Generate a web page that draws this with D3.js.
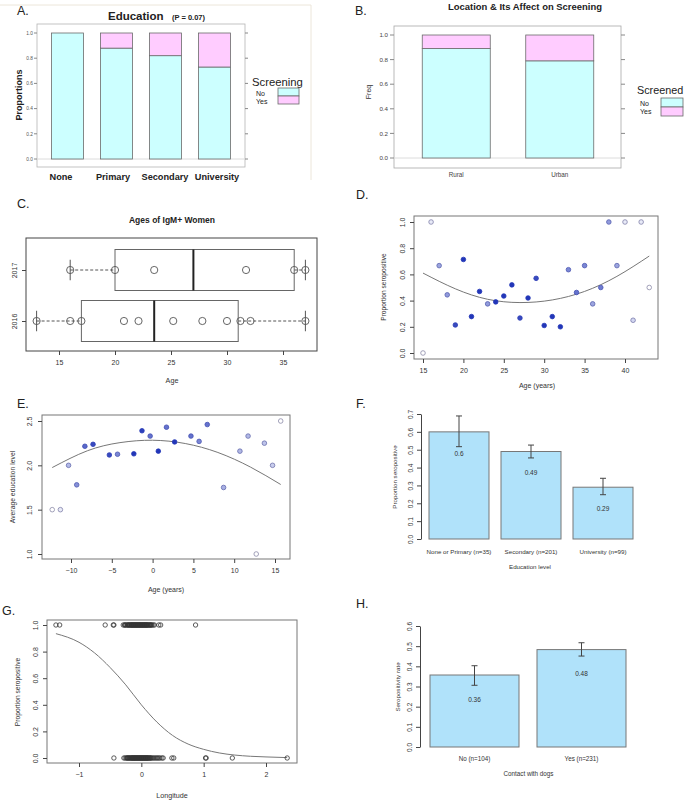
<!DOCTYPE html>
<html><head><meta charset="utf-8">
<script src="https://cdn.jsdelivr.net/npm/d3@7"></script>
<style>body{margin:0;background:#fff}svg{display:block}</style>
</head><body><script>
// ---------------- DATA ----------------
const eduCats = ["None", "Primary", "Secondary", "University"];
const eduNo = [1.0, 0.88, 0.82, 0.73];
const locCats = ["Rural", "Urban"];
const locNo = [0.89, 0.79];
const screenLevels = ["No", "Yes"];
const propTicks = [0, 0.2, 0.4, 0.6, 0.8, 1.0];

const ageYears = ["2016", "2017"];
const ageBoxStats = [[13, 17, 23.5, 31, 37], [16, 20, 27, 36, 37]];
const agePoints = [
  [13, 16, 17, 20.8, 22.1, 25.2, 27.8, 30, 31.2, 32.1, 37],
  [16, 20, 23.5, 31.7, 36, 37]
];
const ageTicks = [15, 20, 25, 30, 35];

const dAge = [15,16,17,18,19,20,21,22,23,24,25,26,27,28,29,30,31,32,33,34,35,36,37,38,39,40,41,42,43];
const dProp = [0,1,0.667,0.444,0.214,0.714,0.278,0.47,0.375,0.39,0.435,0.52,0.267,0.42,0.57,0.21,0.278,0.2,0.636,0.462,0.667,0.375,0.5,1,0.667,1,0.25,1,0.5];
const dWeight = [0,0.1,0.45,0.5,0.9,1,1,1,0.5,1,1,1,0.9,1,0.9,1,1,1,0.6,0.7,0.6,0.45,0.65,0.5,0.45,0.1,0.2,0.1,0];
const dFitAge = [15, 19, 23, 27, 31, 35, 39, 43];
const dFitProp = [0.61, 0.49, 0.41, 0.385, 0.405, 0.47, 0.585, 0.74];
const dXTicks = [15, 20, 25, 30, 35, 40];

const eAge = [-12.3,-11.3,-10.3,-9.3,-8.3,-7.3,-5.3,-4.3,-2.3,-1.3,-0.3,0.7,1.7,2.7,4.7,5.7,6.7,8.7,10.7,11.7,12.7,13.7,14.7,15.7];
const eEdu = [1.5,1.5,2.0,1.78,2.215,2.237,2.117,2.125,2.13,2.39,2.33,2.16,2.43,2.264,2.33,2.27,2.46,1.75,2.16,2.33,1.0,2.25,2.0,2.5];
const eWeight = [0,0.1,0.35,0.55,0.75,0.9,0.9,0.6,1,0.95,0.7,1,0.7,1,0.7,0.6,0.7,0.4,0.35,0.35,0,0.3,0.25,0];
const eFitAge = [-12.3, -8, -4, 0, 4, 8, 12, 15.7];
const eFitEdu = [1.975, 2.164, 2.256, 2.283, 2.246, 2.145, 1.98, 1.784];
const eXTicks = [-10, -5, 0, 5, 10, 15];
const eYTicks = [1.0, 1.5, 2.0, 2.5];

const fCats = ["None or Primary (n=35)", "Secondary (n=201)", "University (n=99)"];
const fVals = [0.6, 0.49, 0.29];
const fLo = [0.517, 0.454, 0.248];
const fHi = [0.689, 0.526, 0.34];
const fTicks = [0, 0.1, 0.2, 0.3, 0.4, 0.5, 0.6, 0.7];

const gPos = [-1.37,-1.31,-0.58,-0.45,-0.44,-0.29,-0.27,-0.26,-0.25,-0.23,-0.22,-0.21,-0.2,-0.19,-0.18,-0.17,-0.16,-0.155,-0.15,-0.14,-0.13,-0.125,-0.12,-0.11,-0.1,-0.095,-0.09,-0.08,-0.07,-0.065,-0.06,-0.05,-0.04,-0.035,-0.03,-0.02,-0.01,-0.005,0,0.01,0.02,0.025,0.03,0.04,0.05,0.055,0.06,0.07,0.08,0.085,0.09,0.1,0.11,0.12,0.13,0.14,0.15,0.16,0.17,0.19,0.21,0.28,0.31,0.87];
const gNeg = [-0.44,-0.28,-0.26,-0.24,-0.23,-0.22,-0.21,-0.2,-0.19,-0.18,-0.17,-0.16,-0.15,-0.145,-0.14,-0.13,-0.12,-0.115,-0.11,-0.1,-0.09,-0.085,-0.08,-0.07,-0.06,-0.055,-0.05,-0.04,-0.03,-0.025,-0.02,-0.01,0,0.005,0.01,0.02,0.03,0.035,0.04,0.05,0.06,0.065,0.07,0.08,0.09,0.095,0.1,0.11,0.12,0.13,0.14,0.15,0.16,0.18,0.2,0.22,0.24,0.26,0.28,0.3,0.33,0.35,0.49,0.52,1.03,1.04,1.46,2.34];
const gFitLon = [-1.37,-1,-0.75,-0.5,-0.25,0,0.25,0.5,0.75,1,1.25,1.5,1.75,2,2.34];
const gFitProp = [0.935,0.87,0.79,0.68,0.55,0.40,0.27,0.17,0.105,0.065,0.038,0.022,0.013,0.008,0.003];
const gXTicks = [-1, 0, 1, 2];

const hCats = ["No (n=104)", "Yes (n=231)"];
const hVals = [0.357, 0.483];
const hLo = [0.306, 0.451];
const hHi = [0.403, 0.517];
const hTicks = [0, 0.1, 0.2, 0.3, 0.4, 0.5, 0.6];

// ---------------- DRAW ----------------
const FONT = '"Liberation Sans", Arial, Helvetica, sans-serif';
const CYAN = "#ccffff", PINK = "#ffccff", BLUE = "#b0e2fa";
const svg = d3.select("body").append("svg").attr("width", 685).attr("height", 801)
  .attr("font-family", FONT);

function txt(x, y, s, o = {}) {
  const t = svg.append("text").attr("x", x).attr("y", y).text(s)
    .attr("font-size", o.fs || 7).attr("fill", o.fill || "#222")
    .attr("text-anchor", o.anchor || "start");
  if (o.bold) t.attr("font-weight", "bold");
  if (o.rot) t.attr("transform", `rotate(-90,${x},${y})`);
  if (o.len) t.attr("textLength", o.len).attr("lengthAdjust", "spacingAndGlyphs");
  return t;
}
function rect(x, y, w, h, fill, stroke, sw) {
  return svg.append("rect").attr("x", x).attr("y", y).attr("width", w).attr("height", h)
    .attr("fill", fill).attr("stroke", stroke || "none").attr("stroke-width", sw || 1);
}
function axisLeftR(scale, ticks, x0, off, fs, fmt, keepDomain) {
  const g = svg.append("g").attr("transform", `translate(${x0},0)`)
    .call(d3.axisLeft(scale).tickValues(ticks).tickSize(4).tickSizeOuter(0).tickFormat(fmt));
  g.attr("font-family", FONT).attr("font-size", fs);
  if (!keepDomain) g.select(".domain").remove(); else g.select(".domain").attr("stroke", "#444");
  g.selectAll(".tick line").attr("stroke", "#444");
  g.selectAll(".tick text").attr("x", null).attr("dy", null).attr("fill", "#333")
    .attr("text-anchor", "middle").attr("transform", `translate(${-off},0) rotate(-90)`);
  return g;
}
function axisBottomR(scale, ticks, y0, ly, fs, fmt) {
  const g = svg.append("g").attr("transform", `translate(0,${y0})`)
    .call(d3.axisBottom(scale).tickValues(ticks).tickSize(4).tickSizeOuter(0).tickFormat(fmt));
  g.attr("font-family", FONT).attr("font-size", fs);
  g.select(".domain").remove();
  g.selectAll(".tick line").attr("stroke", "#444");
  g.selectAll(".tick text").attr("y", ly).attr("dy", null).attr("fill", "#333");
  return g;
}
const f1 = d3.format(".1f");

// ===== Panel A =====
{
  svg.append("path").attr("d", "M0,5H311V180").attr("fill", "none").attr("stroke", "#ece6da").attr("stroke-width", 1);
  txt(17, 15, "A.", { fs: 12.5 });
  txt(108, 20, "Education", { fs: 11.5, bold: true });
  txt(172, 20, "(P = 0.07)", { fs: 7.5, bold: true });
  const L = 37, R = 245, T = 24, B = 167;
  const x = d3.scaleBand().domain(eduCats).range([43, 239]);
  const xLab = d3.scalePoint().domain(eduCats).range([61, 217]);
  const y = d3.scaleLinear().domain([0, 1]).range([159, 33]);
  rect(L, T, R - L, B - T, "none", "#b5b5b5", 0.8);
  svg.append("line").attr("x1", L).attr("x2", R).attr("y1", y(0)).attr("y2", y(0)).attr("stroke", "#dcdcdc");
  const bw = 32;
  eduCats.forEach((c, i) => {
    const cx = x(c) + x.bandwidth() / 2;
    rect(cx - bw / 2, y(eduNo[i]), bw, y(0) - y(eduNo[i]), CYAN, "#6a6a6a", 0.8);
    if (eduNo[i] < 1) rect(cx - bw / 2, y(1), bw, y(eduNo[i]) - y(1), PINK, "#6a6a6a", 0.8);
    txt(xLab(c), 180, c, { fs: 9.2, bold: true, anchor: "middle" });
  });
  propTicks.forEach(v => {
    svg.append("line").attr("x1", L - 3).attr("x2", L).attr("y1", y(v)).attr("y2", y(v)).attr("stroke", "#888");
    svg.append("line").attr("x1", R).attr("x2", R + 3).attr("y1", y(v)).attr("y2", y(v)).attr("stroke", "#888");
    txt(L - 4, y(v) + 1.7, f1(v), { fs: 4.8, anchor: "end", fill: "#555" });
  });
  txt(22, 95, "Proportions", { fs: 9, bold: true, anchor: "middle", rot: true });
  txt(252, 86, "Screening", { fs: 11.3 });
  txt(256, 96, screenLevels[0], { fs: 7 });
  txt(256, 103.5, screenLevels[1], { fs: 7 });
  rect(278, 88, 21, 8, CYAN, "#6a6a6a", 0.8);
  rect(278, 96, 21, 8, PINK, "#6a6a6a", 0.8);
}

// ===== Panel B =====
{
  txt(355, 15, "B.", { fs: 12.5 });
  txt(525, 10, "Location & Its Affect on Screening", { fs: 9, bold: true, anchor: "middle", len: 154 });
  const L = 394, R = 621, T = 26, B = 168;
  const x = d3.scaleBand().domain(locCats).range([404.5, 611.5]);
  const y = d3.scaleLinear().domain([0, 1]).range([158, 35]);
  rect(L, T, R - L, B - T, "none", "#a8a8a8", 0.8);
  svg.append("line").attr("x1", L).attr("x2", R).attr("y1", y(0)).attr("y2", y(0)).attr("stroke", "#dcdcdc");
  const bw = 68;
  locCats.forEach((c, i) => {
    const cx = x(c) + x.bandwidth() / 2;
    rect(cx - bw / 2, y(locNo[i]), bw, y(0) - y(locNo[i]), CYAN, "#6a6a6a", 0.8);
    rect(cx - bw / 2, y(1), bw, y(locNo[i]) - y(1), PINK, "#6a6a6a", 0.8);
    txt(cx, 177, c, { fs: 6.3, anchor: "middle", fill: "#444" });
  });
  propTicks.forEach(v => {
    svg.append("line").attr("x1", L - 4).attr("x2", L).attr("y1", y(v)).attr("y2", y(v)).attr("stroke", "#888");
    svg.append("line").attr("x1", R).attr("x2", R + 4).attr("y1", y(v)).attr("y2", y(v)).attr("stroke", "#888");
    txt(L - 6, y(v) + 2.2, f1(v), { fs: 6.2, anchor: "end", fill: "#444" });
  });
  txt(371, 92, "Freq", { fs: 7, anchor: "middle", rot: true, fill: "#333" });
  txt(637, 94, "Screened", { fs: 10.8 });
  txt(640, 106, screenLevels[0], { fs: 7 });
  txt(640, 114, screenLevels[1], { fs: 7 });
  rect(661, 98, 22, 9, CYAN, "#6a6a6a", 0.8);
  rect(661, 107, 22, 9, PINK, "#6a6a6a", 0.8);
}

// ===== Panel C =====
{
  txt(17, 208, "C.", { fs: 12.5 });
  txt(172, 223, "Ages of IgM+ Women", { fs: 8.5, bold: true, anchor: "middle" });
  const L = 26, R = 317, T = 238, B = 351;
  const x = d3.scaleLinear().domain([15, 35]).range([59, 283]);
  const y = d3.scaleLinear().domain([1, 2]).range([321, 270]);
  rect(L, T, R - L, B - T, "none", "#444", 1);
  const hw = 20.5;
  ageYears.forEach((yr, i) => {
    const [mn, q1, md, q3, mx] = ageBoxStats[i];
    const cy = y(i + 1);
    const dash = "3,2";
    svg.append("line").attr("x1", x(mn)).attr("x2", x(q1)).attr("y1", cy).attr("y2", cy).attr("stroke", "#555").attr("stroke-dasharray", dash);
    svg.append("line").attr("x1", x(q3)).attr("x2", x(mx)).attr("y1", cy).attr("y2", cy).attr("stroke", "#555").attr("stroke-dasharray", dash);
    [mn, mx].forEach(v => svg.append("line").attr("x1", x(v)).attr("x2", x(v)).attr("y1", cy - hw / 2).attr("y2", cy + hw / 2).attr("stroke", "#555"));
    rect(x(q1), cy - hw, x(q3) - x(q1), 2 * hw, "none", "#666", 1);
    svg.append("line").attr("x1", x(md)).attr("x2", x(md)).attr("y1", cy - hw).attr("y2", cy + hw).attr("stroke", "#222").attr("stroke-width", 2);
    agePoints[i].forEach(v => svg.append("circle").attr("cx", x(v)).attr("cy", cy).attr("r", 3.6)
      .attr("fill", "none").attr("stroke", "#555").attr("stroke-width", 0.9));
  });
  axisBottomR(x, ageTicks, B, 14, 7, d3.format("d"));
  axisLeftR(y, [1, 2], L, 9.5, 7, (d) => ageYears[d - 1]);
  txt(172, 383, "Age", { fs: 7.2, anchor: "middle", fill: "#333" });
}

// ===== Panel D =====
{
  txt(356, 199, "D.", { fs: 12.5 });
  const L = 414, R = 658, T = 216, B = 359;
  const x = d3.scaleLinear().domain([15, 40]).range([423, 625]);
  const y = d3.scaleLinear().domain([0, 1]).range([353, 222]);
  rect(L, T, R - L, B - T, "none", "#777", 1);
  svg.append("path").datum(dFitAge.map((a, i) => [a, dFitProp[i]]))
    .attr("d", d3.line().x(d => x(d[0])).y(d => y(d[1])).curve(d3.curveNatural))
    .attr("fill", "none").attr("stroke", "#777").attr("stroke-width", 1);
  dAge.forEach((a, i) => {
    const w = dWeight[i];
    svg.append("circle").attr("cx", x(a)).attr("cy", y(dProp[i])).attr("r", 2.3)
      .attr("fill", d3.interpolateRgb("#ffffff", "#2236b8")(w))
      .attr("stroke", d3.interpolateRgb("#8c8aa8", "#2236b8")(w)).attr("stroke-width", 0.8);
  });
  axisBottomR(x, dXTicks, B, 14, 7, d3.format("d"));
  axisLeftR(y, propTicks, L, 9.5, 7, f1);
  txt(386, 287, "Proportion seropositive", { fs: 6.6, anchor: "middle", rot: true, fill: "#333" });
  txt(537, 388, "Age (years)", { fs: 7, anchor: "middle", fill: "#333" });
}

// ===== Panel E =====
{
  txt(17, 408, "E.", { fs: 12.5 });
  const L = 42, R = 290, T = 415, B = 559;
  const x = d3.scaleLinear().domain([-10, 15]).range([71, 275]);
  const y = d3.scaleLinear().domain([1, 2.5]).range([554, 421]);
  rect(L, T, R - L, B - T, "none", "#777", 1);
  svg.append("path").datum(eFitAge.map((a, i) => [a, eFitEdu[i]]))
    .attr("d", d3.line().x(d => x(d[0])).y(d => y(d[1])).curve(d3.curveNatural))
    .attr("fill", "none").attr("stroke", "#777").attr("stroke-width", 1);
  eAge.forEach((a, i) => {
    const w = eWeight[i];
    svg.append("circle").attr("cx", x(a)).attr("cy", y(eEdu[i])).attr("r", 2.3)
      .attr("fill", d3.interpolateRgb("#ffffff", "#2236b8")(w))
      .attr("stroke", d3.interpolateRgb("#8c8aa8", "#2236b8")(w)).attr("stroke-width", 0.8);
  });
  axisBottomR(x, eXTicks, B, 14, 7, d3.format("d"));
  axisLeftR(y, eYTicks, L, 10.5, 7, f1);
  txt(15, 487, "Average education level", { fs: 6.8, anchor: "middle", rot: true, fill: "#333" });
  txt(166, 592, "Age (years)", { fs: 7, anchor: "middle", fill: "#333" });
}

// ===== Panel F =====
{
  txt(356, 408, "F.", { fs: 12.5 });
  const x = d3.scaleBand().domain(fCats).range([423, 639]).paddingInner(1 / 6).paddingOuter(1 / 12);
  const y = d3.scaleLinear().domain([0, 0.7]).range([539, 414]);
  fCats.forEach((c, i) => {
    rect(x(c), y(fVals[i]), x.bandwidth(), y(0) - y(fVals[i]), BLUE, "#777", 1);
    const cx = x(c) + x.bandwidth() / 2;
    svg.append("line").attr("x1", cx).attr("x2", cx).attr("y1", y(fLo[i])).attr("y2", y(fHi[i])).attr("stroke", "#444");
    [fLo[i], fHi[i]].forEach(v => svg.append("line").attr("x1", cx - 3).attr("x2", cx + 3).attr("y1", y(v)).attr("y2", y(v)).attr("stroke", "#444"));
    txt(cx, y(fVals[i] - 0.12) + 2.3, String(fVals[i]), { fs: 6.5, anchor: "middle", fill: "#333" });
    txt(cx, 554, c, { fs: 6.2, anchor: "middle", fill: "#333" });
  });
  axisLeftR(y, fTicks, 421, 8.5, 6.5, f1, true);
  txt(397, 477, "Proportion seropositive", { fs: 6.2, anchor: "middle", rot: true, fill: "#333" });
  txt(530, 569, "Education level", { fs: 6.2, anchor: "middle", fill: "#333" });
}

// ===== Panel G =====
{
  txt(2, 615, "G.", { fs: 12.5 });
  const L = 47, R = 297, T = 620, B = 763;
  const x = d3.scaleLinear().domain([-1, 2]).range([79, 266]);
  const y = d3.scaleLinear().domain([0, 1]).range([758, 625]);
  rect(L, T, R - L, B - T, "none", "#777", 1);
  svg.append("path").datum(gFitLon.map((a, i) => [a, gFitProp[i]]))
    .attr("d", d3.line().x(d => x(d[0])).y(d => y(d[1])).curve(d3.curveMonotoneX))
    .attr("fill", "none").attr("stroke", "#777").attr("stroke-width", 1);
  [[gPos, 1], [gNeg, 0]].forEach(([arr, v]) => arr.forEach(lon =>
    svg.append("circle").attr("cx", x(lon)).attr("cy", y(v)).attr("r", 2.2)
      .attr("fill", "none").attr("stroke", "#333").attr("stroke-width", 0.8)));
  axisBottomR(x, gXTicks, B, 14, 7, d3.format("d"));
  axisLeftR(y, propTicks, L, 9.5, 7, f1);
  txt(20, 692, "Proportion seropositive", { fs: 6.7, anchor: "middle", rot: true, fill: "#333" });
  txt(172, 798, "Longitude", { fs: 7.2, anchor: "middle", fill: "#333" });
}

// ===== Panel H =====
{
  txt(356, 608, "H.", { fs: 12.5 });
  const x = d3.scaleBand().domain(hCats).range([421, 635]).paddingInner(18 / 107).paddingOuter(9 / 107);
  const y = d3.scaleLinear().domain([0, 0.6]).range([747, 626]);
  hCats.forEach((c, i) => {
    rect(x(c), y(hVals[i]), x.bandwidth(), y(0) - y(hVals[i]), BLUE, "#777", 1);
    const cx = x(c) + x.bandwidth() / 2;
    svg.append("line").attr("x1", cx).attr("x2", cx).attr("y1", y(hLo[i])).attr("y2", y(hHi[i])).attr("stroke", "#444");
    [hLo[i], hHi[i]].forEach(v => svg.append("line").attr("x1", cx - 3).attr("x2", cx + 3).attr("y1", y(v)).attr("y2", y(v)).attr("stroke", "#444"));
    txt(cx, y(hVals[i] - 0.12) + 2.3, d3.format(".2f")(hVals[i]), { fs: 6.5, anchor: "middle", fill: "#333" });
    txt(cx, 761, c, { fs: 6.3, anchor: "middle", fill: "#333" });
  });
  axisLeftR(y, hTicks, 420, 8.5, 6.5, f1, true);
  txt(400, 687, "Seropositivity rate", { fs: 6.2, anchor: "middle", rot: true, fill: "#333" });
  txt(528.5, 776, "Contact with dogs", { fs: 6.3, anchor: "middle", fill: "#333" });
}
</script></body></html>
